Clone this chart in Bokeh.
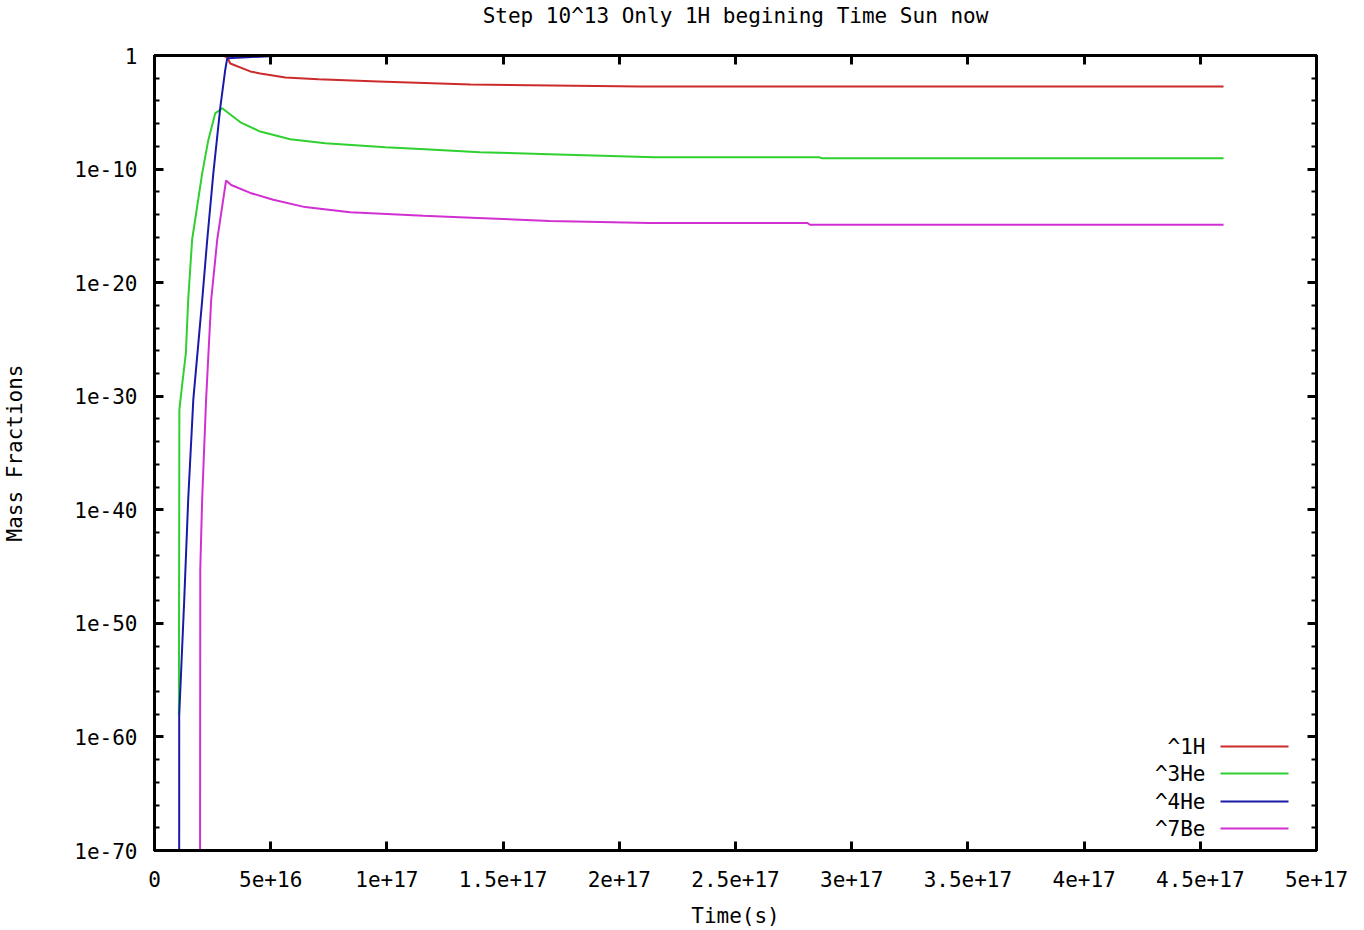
from bokeh.plotting import figure
from bokeh.models import (Range1d, FixedTicker, LinearAxis, LogAxis,
                          CustomJSTickFormatter, Label, BoxAnnotation)
from bokeh.embed import file_html
from bokeh.resources import INLINE

# ---------------- data ----------------
title_text = "Step 10^13 Only 1H begining Time Sun now"
x_label = "Time(s)"
y_label = "Mass Fractions"
series_names = ["^1H", "^3He", "^4He", "^7Be"]
series_colors = ["#cc2b2b", "#2fd02f", "#1a1aa8", "#d22fd2"]

x_ticks = [0, 5e16, 1e17, 1.5e17, 2e17, 2.5e17, 3e17, 3.5e17, 4e17, 4.5e17, 5e17]
y_ticks = [1e-70, 1e-60, 1e-50, 1e-40, 1e-30, 1e-20, 1e-10, 1]
y_minor_ticks = [1e-68, 1e-66, 1e-64, 1e-62, 1e-58, 1e-56, 1e-54, 1e-52,
                 1e-48, 1e-46, 1e-44, 1e-42, 1e-38, 1e-36, 1e-34, 1e-32,
                 1e-28, 1e-26, 1e-24, 1e-22, 1e-18, 1e-16, 1e-14, 1e-12,
                 1e-8, 1e-6, 1e-4, 1e-2]

# time (s) and log10(mass fraction)
h1_t = [1.06e16, 3.0e16, 3.14e16, 3.26e16, 4.12e16, 4.55e16, 5.63e16, 7.05e16,
        9.63e16, 1.36e17, 2.09e17, 4.60e17]
h1_log = [-0.01, -0.05, -0.18, -0.7, -1.4, -1.58, -1.93, -2.1,
          -2.28, -2.55, -2.72, -2.72]

he3_t = [1.05e16, 1.07e16, 1.2e16, 1.35e16, 1.45e16, 1.62e16, 2.05e16, 2.31e16,
         2.61e16, 2.91e16, 3.70e16, 4.55e16, 5.84e16, 7.35e16, 9.93e16,
         1.165e17, 1.40e17, 1.70e17, 2.15e17, 2.86e17, 2.87e17, 4.60e17]
he3_log = [-58.1, -31.2, -28.8, -26.2, -21.5, -16.2, -10.4, -7.5,
           -5.1, -4.65, -5.88, -6.7, -7.37, -7.73, -8.08,
           -8.25, -8.52, -8.69, -8.96, -8.96, -9.04, -9.04]

he4_t = [1.06e16, 1.063e16, 1.28e16, 1.45e16, 1.67e16, 2.05e16, 2.27e16, 2.53e16,
         2.83e16, 3.04e16, 3.13e16, 4.0e16, 5.2e16, 1.0e17, 4.60e17]
he4_log = [-100, -58.1, -47.9, -39.1, -30.3, -21.6, -16.2, -10.4,
           -4.6, -1.3, -0.25, -0.15, -0.05, -0.01, -0.01]

be7_t = [1.95e16, 1.97e16, 2.05e16, 2.22e16, 2.44e16, 2.70e16, 3.08e16, 3.3e16,
         4.12e16, 5.11e16, 6.48e16, 8.42e16, 1.157e17, 1.39e17, 1.70e17,
         2.13e17, 2.81e17, 2.82e17, 4.60e17]
be7_log = [-100, -45.2, -39.1, -30.3, -21.5, -16.2, -11.0, -11.4,
           -12.1, -12.7, -13.35, -13.8, -14.1, -14.3, -14.57,
           -14.75, -14.75, -14.9, -14.9]

series_t = [h1_t, he3_t, he4_t, be7_t]
series_log = [h1_log, he3_log, he4_log, be7_log]

# ---------------- figure ----------------
FONT = "DejaVu Sans Mono"
FS = "21px"

p = figure(width=1364, height=930, y_axis_type="log",
           x_range=Range1d(x_ticks[0], x_ticks[-1]),
           y_range=Range1d(y_ticks[0], y_ticks[-1]),
           output_backend="svg", toolbar_location=None,
           min_border_left=154, min_border_right=48,
           min_border_top=55, min_border_bottom=78)

p.background_fill_color = "white"
p.border_fill_color = "white"
p.outline_line_color = "black"
p.outline_line_width = 3
p.xgrid.visible = False
p.ygrid.visible = False

p.title.text = title_text
p.title.align = "center"
p.title.text_font = FONT
p.title.text_font_size = FS
p.title.text_font_style = "normal"
p.title.text_color = "black"
p.title.standoff = 0

x_fmt = CustomJSTickFormatter(code="""
if (tick == 0) return "0";
const e = Math.floor(Math.log10(tick) + 1e-9);
const m = Math.round(tick / Math.pow(10, e) * 10) / 10;
return m + "e+" + e;
""")
y_fmt = CustomJSTickFormatter(code="""
const e = Math.round(Math.log10(tick));
if (e == 0) return "1";
return "1e" + e;
""")
blank = CustomJSTickFormatter(code="return '';")

xt = FixedTicker(ticks=x_ticks)
yt = FixedTicker(ticks=y_ticks, minor_ticks=y_minor_ticks)


def style(ax, ticker, fmt):
    ax.ticker = ticker
    ax.formatter = fmt
    ax.axis_line_color = "black"
    ax.axis_line_width = 3
    ax.major_tick_in = 9
    ax.major_tick_out = 0
    ax.major_tick_line_width = 3
    ax.minor_tick_in = 5
    ax.minor_tick_out = 0
    ax.minor_tick_line_width = 2
    ax.major_label_text_font = FONT
    ax.major_label_text_font_size = FS
    ax.major_label_text_color = "black"
    ax.axis_label_text_font = FONT
    ax.axis_label_text_font_size = FS
    ax.axis_label_text_font_style = "normal"
    ax.axis_label_text_color = "black"


style(p.xaxis[0], xt, x_fmt)
p.xaxis[0].axis_label = x_label
p.xaxis[0].major_label_standoff = 20
p.xaxis[0].axis_label_standoff = 14

style(p.yaxis[0], yt, y_fmt)
p.yaxis[0].axis_label = y_label
p.yaxis[0].major_label_standoff = 17
p.yaxis[0].axis_label_standoff = 44

# mirrored top axis; a blank axis label reserves the gap under the title
top = LinearAxis()
style(top, xt, blank)
top.major_label_standoff = 0
top.axis_label = " "
top.axis_label_text_font_size = "10px"
top.axis_label_standoff = 14
p.add_layout(top, "above")

right = LogAxis()
style(right, yt, blank)
right.major_label_standoff = 0
p.add_layout(right, "right")

for t, lg, c in zip(series_t, series_log, series_colors):
    p.line(t, [10.0 ** v for v in lg], line_color=c, line_width=2)

# gnuplot-style key: right-aligned label followed by a line sample
row_y = [104, 77, 49, 22]
for name, c, ry in zip(series_names, series_colors, row_y):
    p.add_layout(Label(x=1051, y=ry, x_units="screen", y_units="screen",
                       text=name, text_align="right", text_baseline="middle",
                       text_font=FONT, text_font_size=FS,
                       text_color="black"))
    p.add_layout(BoxAnnotation(left=1066, right=1134, bottom=ry - 1, top=ry + 1,
                               left_units="screen", right_units="screen",
                               bottom_units="screen", top_units="screen",
                               fill_color=c, fill_alpha=1, line_color=None))

open("out.html", "w").write(file_html(p, INLINE))
